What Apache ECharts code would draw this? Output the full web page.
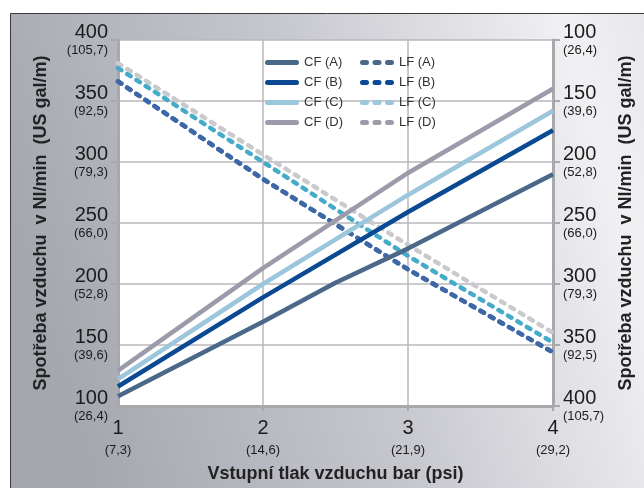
<!DOCTYPE html>
<html><head><meta charset="utf-8">
<script src="https://cdn.jsdelivr.net/npm/echarts@6/dist/echarts.min.js"></script>
<style>html,body{margin:0;padding:0;background:#fff}#c{width:644px;height:488px}</style>
</head><body><div id="c"></div>
<script>
// x axis: inlet pressure in bar, with psi in brackets
const pressureBar = [1, 2, 3, 4];
const pressurePsi = ['7,3', '14,6', '21,9', '29,2'];
// y axes: consumption in Nl/min, with US gal/m in brackets
const flowNl = [100, 150, 200, 250, 300, 350, 400];
const flowGal = ['26,4', '39,6', '52,8', '66,0', '79,3', '92,5', '105,7'];

// CF series (left axis)
const cfAx = [1, 2, 2.5, 3, 4];
const cfA = [108, 169, 201, 229, 290];
const cfBx = [1, 2, 3, 4];
const cfB = [116, 189, 259, 326];
const cfCx = [1, 2, 3, 4];
const cfC = [122, 200, 273, 342];
const cfDx = [1, 2, 3, 4];
const cfD = [129, 213, 291, 360];

// LF series (right, reversed axis)
const lfX = [1, 2, 3, 4];
const lfA = [134, 214, 288, 356];
const lfB = [134, 214, 288, 356];
const lfC = [123, 200, 277, 348];
const lfD = [119, 194, 268, 340];

const galOf = v => flowGal[flowNl.indexOf(v)] || '';
const psiOf = v => pressurePsi[pressureBar.indexOf(v)] || '';
const pairs = (xs, ys) => xs.map((x, i) => [x, ys[i]]);

const FONT = 'Liberation Sans, Arial, sans-serif';
const W = 4.5;
function cf(name, xs, ys, color, z) {
  return { name, type: 'line', yAxisIndex: 0, data: pairs(xs, ys), symbol: 'none', z,
    lineStyle: { color, width: W, cap: 'butt' }, itemStyle: { color } };
}
function lf(name, ys, color, z) {
  return { name, type: 'line', yAxisIndex: 1, data: pairs(lfX, ys), symbol: 'none', z,
    lineStyle: { color, width: W, type: [4, 7], cap: 'round' }, itemStyle: { color } };
}
const cA = '#4a6887', cB = '#0b4a92', cC = '#9cc6dc', cD = '#9c9baa';
const iconCF = 'path://M2.5,0h29a2.5,2.5 0 0 1 0,5h-29a2.5,2.5 0 0 1 0,-5z';
const iconLF = 'path://M2.5,0h4a2.5,2.5 0 0 1 0,5h-4a2.5,2.5 0 0 1 0,-5z M15,0h4a2.5,2.5 0 0 1 0,5h-4a2.5,2.5 0 0 1 0,-5z M27.5,0h4a2.5,2.5 0 0 1 0,5h-4a2.5,2.5 0 0 1 0,-5z';

const yRich = {
  a: { fontSize: 20, color: '#1c1c1c', fontFamily: FONT, lineHeight: 20 },
  b: { fontSize: 13, color: '#1c1c1c', fontFamily: FONT, lineHeight: 16 }
};

const chart = echarts.init(document.getElementById('c'), null, { renderer: 'canvas' });
chart.setOption({
  animation: false,
  graphic: [{
    type: 'rect', z: -10, silent: true,
    shape: { x: 10.5, y: 13.5, width: 660, height: 500 },
    style: {
      fill: new echarts.graphic.LinearGradient(0, 0.4, 1, 0, [
        { offset: 0, color: '#a5a7af' },
        { offset: 0.45, color: '#c7c8ce' },
        { offset: 0.85, color: '#f1f1f4' },
        { offset: 1, color: '#e4e5e9' }
      ]),
      stroke: '#3a3a3a', lineWidth: 1
    }
  }, {
    type: 'rect', z: -5, silent: true,
    shape: { x: 256.5, y: 50.5, width: 192, height: 84 },
    style: { fill: '#fff', stroke: '#a0a0a8', lineWidth: 1 }
  }],
  grid: { left: 118, right: 91, top: 40, bottom: 81, show: true, backgroundColor: '#fff', borderWidth: 0 },
  legend: [{
    data: ['CF (A)', 'CF (B)', 'CF (C)', 'CF (D)'].map((n, i) => {
      const c = [cA, cB, cC, cD][i];
      return { name: n, icon: iconCF, itemStyle: { color: c } };
    }),
    orient: 'vertical', left: 265, top: 55, itemWidth: 34, itemHeight: 5, itemGap: 5,
    textStyle: { fontSize: 13, color: '#333', fontFamily: FONT, lineHeight: 15 }, padding: 0, z: 10
  }, {
    data: ['LF (A)', 'LF (B)', 'LF (C)', 'LF (D)'].map((n, i) => {
      const c = [cA, cB, cC, cD][i];
      return { name: n, icon: iconLF, itemStyle: { color: c } };
    }),
    orient: 'vertical', left: 360, top: 55, itemWidth: 34, itemHeight: 5, itemGap: 5,
    textStyle: { fontSize: 13, color: '#333', fontFamily: FONT, lineHeight: 15 }, padding: 0, z: 10
  }],
  xAxis: {
    type: 'value', min: 1, max: 4, interval: 1,
    name: 'Vstupní tlak vzduchu bar (psi)', nameLocation: 'middle', nameGap: 59,
    nameTextStyle: { fontSize: 18, fontWeight: 'bold', color: '#222', fontFamily: FONT },
    axisLine: { show: true, lineStyle: { color: '#a9a9ad', width: 3 } },
    axisTick: { show: true, length: 5, lineStyle: { color: '#a9a9ad', width: 2 } },
    splitLine: { show: true, lineStyle: { color: '#b9b9bd', width: 1.5 } },
    axisLabel: {
      margin: 9,
      formatter: v => '{a|' + v + '}\n{b|(' + psiOf(v) + ')}',
      rich: { a: { fontSize: 20, color: '#1c1c1c', fontFamily: FONT, lineHeight: 27 },
              b: { fontSize: 13, color: '#1c1c1c', fontFamily: FONT, lineHeight: 16 } }
    }
  },
  yAxis: [{
    type: 'value', min: 100, max: 400, interval: 50, position: 'left',
    name: 'Spotřeba vzduchu  v Nl/min  (US gal/m)', nameLocation: 'middle', nameGap: 68, nameRotate: 90,
    nameTextStyle: { fontSize: 18, fontWeight: 'bold', color: '#222', fontFamily: FONT },
    axisLine: { show: true, lineStyle: { color: '#a9a9ad', width: 3 } },
    axisTick: { show: true, length: 7, lineStyle: { color: '#a9a9ad', width: 2 } },
    splitLine: { show: true, lineStyle: { color: '#b9b9bd', width: 1.5 } },
    axisLabel: {
      margin: 10, align: 'right',
      formatter: v => '{a|' + v + '}\n{b|(' + galOf(v) + ')}', rich: yRich
    }
  }, {
    type: 'value', min: 100, max: 400, interval: 50, position: 'right', inverse: true,
    name: 'Spotřeba vzduchu  v Nl/min  (US gal/m)', nameLocation: 'middle', nameGap: 64, nameRotate: 90,
    nameTextStyle: { fontSize: 18, fontWeight: 'bold', color: '#222', fontFamily: FONT },
    axisLine: { show: true, lineStyle: { color: '#a9a9ad', width: 3 } },
    axisTick: { show: true, length: 7, lineStyle: { color: '#a9a9ad', width: 2 } },
    splitLine: { show: false },
    axisLabel: {
      margin: 10, align: 'left',
      formatter: v => '{a|' + v + '}\n{b|(' + galOf(v) + ')}', rich: yRich
    }
  }],
  series: [
    lf('LF (D)', lfD, '#cacacd', 2),
    lf('LF (C)', lfC, '#46abc9', 3),
    lf('LF (B)', lfB, '#3e67a8', 3),
    lf('LF (A)', lfA, '#3e67a8', 4),
    cf('CF (A)', cfAx, cfA, cA, 5),
    cf('CF (B)', cfBx, cfB, cB, 5),
    cf('CF (C)', cfCx, cfC, cC, 5),
    cf('CF (D)', cfDx, cfD, cD, 5)
  ]
});
</script></body></html>
